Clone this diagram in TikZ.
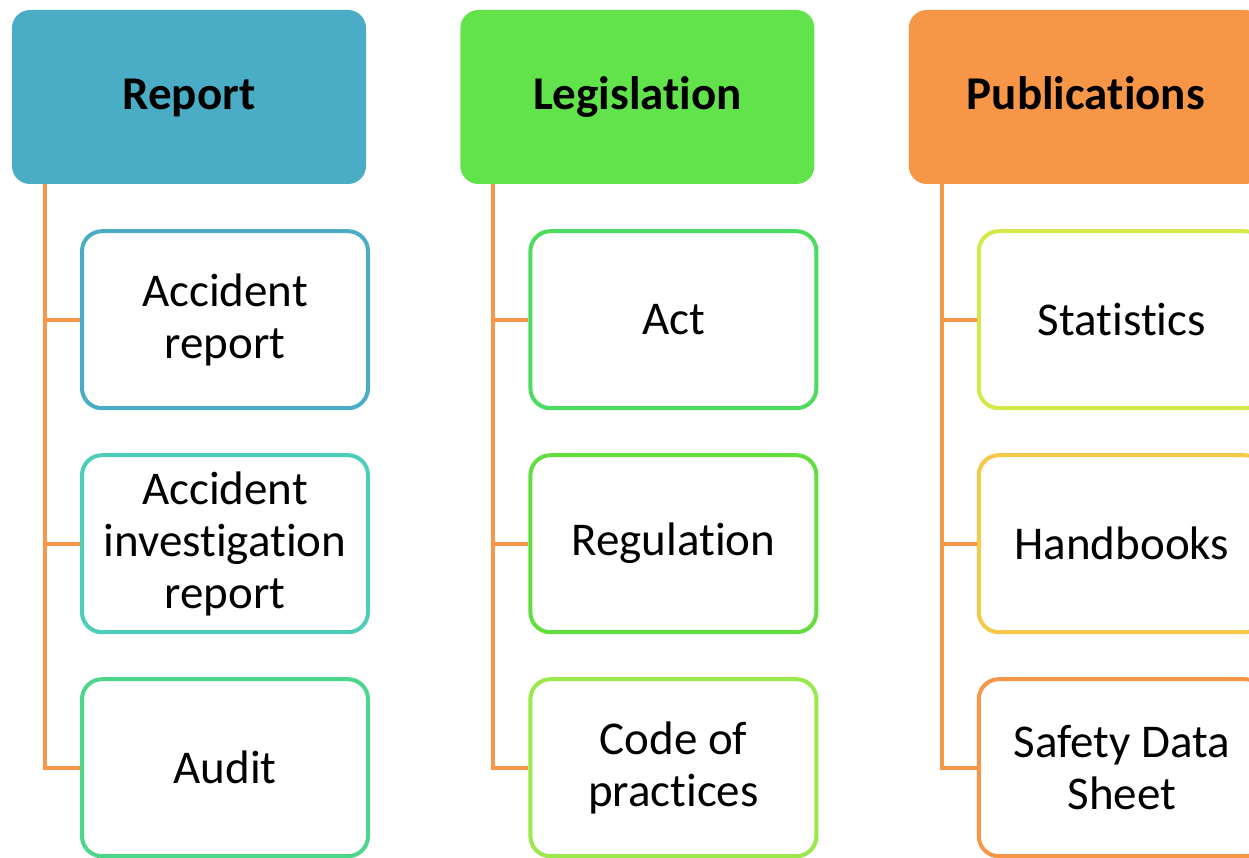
\documentclass[tikz,border=0pt]{standalone}
\usepackage{fontspec}
\setmainfont{Carlito}[Ligatures={NoCommon,NoContextual}]
\usetikzlibrary{positioning}
\definecolor{repblue}{HTML}{4BACC6}
\definecolor{repteal}{HTML}{4BCDBA}
\definecolor{repmint}{HTML}{4BD68A}
\definecolor{leggreen}{HTML}{62E34B}
\definecolor{legact}{HTML}{4BDB5E}
\definecolor{legreg}{HTML}{62DE40}
\definecolor{legcode}{HTML}{9BE84A}
\definecolor{publime}{HTML}{D4E84A}
\definecolor{pubgold}{HTML}{F5C84A}
\definecolor{puborange}{HTML}{F79646}
\tikzstyle{header} = [rectangle, rounded corners=18pt, minimum width=354pt, minimum height=174pt, text centered, text height=36pt, text depth=10pt, font=\fontsize{47}{52}\selectfont\bfseries]
\tikzstyle{item} = [rectangle, rounded corners=20pt, minimum width=286pt, minimum height=177pt, align=center, draw, line width=4pt, fill=white, font=\fontsize{47}{52}\selectfont]
\tikzstyle{branch} = [line width=4pt, draw=puborange]

\begin{document}
\begin{tikzpicture}[x=1pt, y=-1pt]
\useasboundingbox (0,0) rectangle (1249,858);

% --- Headers ---
\node (Report) [header, fill=repblue] at (189,97) {Report};
\node (Legis) [header, fill=leggreen, right=94pt of Report] {Legislation};
\node (Pubs) [header, fill=puborange, right=94pt of Legis] {Publications};

% --- Report items ---
\node (AccRep) [item, draw=repblue, below=45pt of Report, xshift=36pt] {Accident\\report};
\node (AccInv) [item, draw=repteal, below=43pt of AccRep] {Accident\\investigation\\report};
\node (Audit) [item, draw=repmint, below=43pt of AccInv] {Audit};

% --- Legislation items ---
\node (Act) [item, draw=legact, below=45pt of Legis, xshift=36pt] {Act};
\node (Regul) [item, draw=legreg, below=43pt of Act] {Regulation};
\node (Code) [item, draw=legcode, below=43pt of Regul] {Code of\\practices};

% --- Publications items ---
\node (Stats) [item, draw=publime, below=45pt of Pubs, xshift=36pt] {Statistics};
\node (Hand) [item, draw=pubgold, below=43pt of Stats] {Handbooks};
\node (SDS) [item, draw=puborange, below=43pt of Hand] {Safety Data\\Sheet};

% --- Connectors ---
\foreach \hdr/\a/\b/\c in {Report/AccRep/AccInv/Audit, Legis/Act/Regul/Code, Pubs/Stats/Hand/SDS} {
    \draw [branch] ([xshift=33pt]\hdr.south west) |- (\c.west);
    \draw [branch] ([xshift=33pt]\hdr.south west) |- (\a.west);
    \draw [branch] ([xshift=33pt]\hdr.south west) |- (\b.west);
}

\end{tikzpicture}
\end{document}
